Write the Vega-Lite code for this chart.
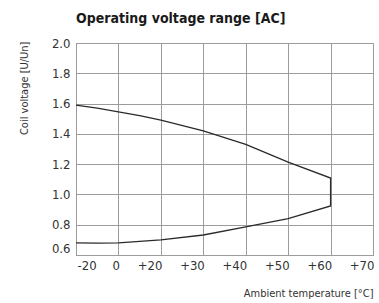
{
  "$schema": "https://vega.github.io/schema/vega-lite/v6.json",
  "width": 297,
  "height": 212,
  "autosize": "none",
  "padding": {"left": 76, "top": 43, "right": 6, "bottom": 48},
  "background": "white",
  "title": {
    "text": "Operating voltage range [AC]",
    "anchor": "start",
    "frame": "group",
    "font": "Liberation Sans Narrow, DejaVu Sans Condensed, sans-serif",
    "fontSize": 14,
    "fontWeight": "bold",
    "color": "#1a1a1a",
    "offset": 11
  },
  "config": {
    "view": {"stroke": "#9c9c9c", "strokeWidth": 1},
    "axis": {
      "grid": true,
      "gridColor": "#9c9c9c",
      "gridOpacity": 1,
      "gridWidth": 1,
      "domainColor": "#9c9c9c",
      "domainWidth": 1,
      "ticks": false,
      "labelFont": "Liberation Sans Narrow, DejaVu Sans Condensed, sans-serif",
      "labelFontSize": 13,
      "labelColor": "#333333",
      "titleFont": "Liberation Sans Narrow, DejaVu Sans Condensed, sans-serif",
      "titleFontSize": 11,
      "titleFontWeight": "normal",
      "titleColor": "#333333"
    }
  },
  "data": {
    "values": [
      {"step": 1, "temperature": -20, "voltage": 1.59},
      {"step": 2, "temperature": -10, "voltage": 1.57},
      {"step": 3, "temperature": 0, "voltage": 1.545},
      {"step": 4, "temperature": 10, "voltage": 1.52},
      {"step": 5, "temperature": 20, "voltage": 1.49},
      {"step": 6, "temperature": 30, "voltage": 1.42},
      {"step": 7, "temperature": 40, "voltage": 1.33},
      {"step": 8, "temperature": 50, "voltage": 1.214},
      {"step": 9, "temperature": 60, "voltage": 1.108},
      {"step": 10, "temperature": 60, "voltage": 0.924},
      {"step": 11, "temperature": 50, "voltage": 0.84},
      {"step": 12, "temperature": 40, "voltage": 0.785},
      {"step": 13, "temperature": 30, "voltage": 0.732},
      {"step": 14, "temperature": 20, "voltage": 0.7},
      {"step": 15, "temperature": 10, "voltage": 0.69},
      {"step": 16, "temperature": 0, "voltage": 0.68},
      {"step": 17, "temperature": -10, "voltage": 0.678},
      {"step": 18, "temperature": -20, "voltage": 0.68}
    ]
  },
  "mark": {"type": "line", "color": "#2a2a2a", "strokeWidth": 1.3},
  "encoding": {
    "x": {
      "field": "temperature",
      "type": "quantitative",
      "scale": {"domain": [-20, 0, 20, 70], "range": [0, 42.4, 84.9, 297]},
      "axis": {
        "values": [-20, 0, 20, 30, 40, 50, 60, 70],
        "labelExpr": "datum.value > 0 ? '+' + datum.value : '' + datum.value",
        "labelAlign": {"condition": {"test": "datum.value == -20", "value": "left"}, "value": "right"},
        "labelOffset": 1,
        "labelPadding": 4,
        "title": "Ambient temperature [°C]",
        "titleAnchor": "end",
        "titleAlign": "right",
        "titleX": 297,
        "titleY": 38,
        "titleBaseline": "middle"
      }
    },
    "y": {
      "field": "voltage",
      "type": "quantitative",
      "scale": {"domain": [0.6, 2.0], "nice": false, "zero": false},
      "axis": {
        "values": [0.6, 0.8, 1.0, 1.2, 1.4, 1.6, 1.8, 2.0],
        "format": ".1f",
        "labelPadding": 6,
        "labelBaseline": {"condition": {"test": "datum.value < 0.65", "value": "bottom"}, "value": "middle"},
        "title": "Coil voltage [U/Un]",
        "titleAngle": -90,
        "titleAlign": "right",
        "titleBaseline": "middle",
        "titleX": -52,
        "titleY": -2
      }
    },
    "order": {"field": "step", "type": "quantitative"}
  }
}
